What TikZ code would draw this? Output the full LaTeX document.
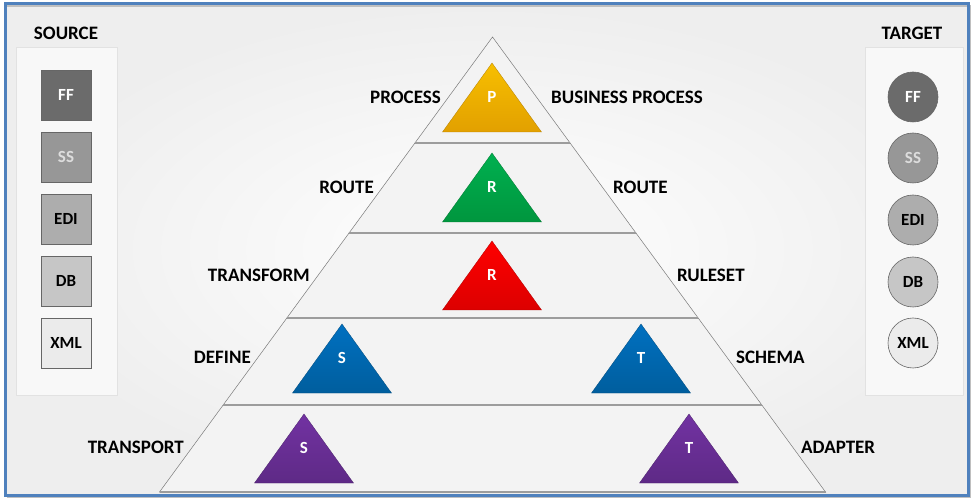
\documentclass[tikz,border=0pt]{standalone}
\usepackage{fontspec}
\setmainfont{Carlito}
\usetikzlibrary{calc}
\definecolor{framecol}{HTML}{4F81BD}
\definecolor{bgedge}{HTML}{EEEEEE}
\definecolor{bandfill}{HTML}{F3F3F3}
\definecolor{bandline}{HTML}{7A7A7A}
\definecolor{divline}{HTML}{9C9C9C}
\definecolor{panelline}{HTML}{E2E2E2}
\definecolor{goldT}{HTML}{F7BF00}\definecolor{goldB}{HTML}{E2A000}
\definecolor{greenT}{HTML}{00B050}\definecolor{greenB}{HTML}{00963E}
\definecolor{redT}{HTML}{FF0000}\definecolor{redB}{HTML}{DC0000}
\definecolor{blueT}{HTML}{0070C0}\definecolor{blueB}{HTML}{005E9E}
\definecolor{purpT}{HTML}{7232A2}\definecolor{purpB}{HTML}{5E2A86}
\definecolor{g1}{HTML}{6B6B6B}\definecolor{g2}{HTML}{979797}
\definecolor{g3}{HTML}{ADADAD}\definecolor{g4}{HTML}{C6C6C6}
\definecolor{g5}{HTML}{EBEBEB}\definecolor{sstext}{HTML}{DDDDDD}
\newcommand\pyrtri[5]{%
  \shade[top color=#3T, bottom color=#3B, draw=#3B!80!black, line width=0.3]
    (#1,#2) -- ++(-49.5,69) -- ++(99,0) -- cycle;
  \node[tritext] (#4) at (#1,#2+34) {#5};}
\begin{document}
\begin{tikzpicture}[x=1pt,y=-1pt,
  lbl/.style={font=\fontsize{19}{21}\selectfont\bfseries, text=black, inner sep=0pt},
  tritext/.style={font=\fontsize{17}{19}\selectfont\bfseries, text=white, inner sep=0pt},
  srcbox/.style={draw=black!60, line width=0.6, minimum size=50, inner sep=0pt,
    font=\fontsize{17}{19}\selectfont\bfseries},
  tgtc/.style={circle, draw=black!60, line width=0.6, minimum size=50, inner sep=0pt,
    font=\fontsize{17}{19}\selectfont\bfseries},
  band/.style={fill=bandfill, draw=bandline, line width=0.5},
  divider/.style={draw=divline, line width=1.6}]
\useasboundingbox (0,0) rectangle (977,502);
\fill[white] (0,0) rectangle (977,502);
\fill[inner color=white, outer color=bgedge] (5,4) rectangle (968,495);
\draw[black!25, line width=2] (7,6) -- (970,6) -- (970,497) -- (7,497);
\draw[framecol, line width=3] (5,4) rectangle (968,495);
% panels
\draw[panelline, fill=white!60!bgedge] (16,47) rectangle (117,395);
\draw[panelline, fill=white!60!bgedge] (865,47) rectangle (963,395);
\node[lbl] (src) at (66,33) {SOURCE};
\node[lbl] (tgt) at (912,33) {TARGET};
% source boxes
\node[srcbox, fill=g1, text=white] (sff) at (66,95) {FF};
\node[srcbox, fill=g2, text=sstext] (sss) at (66,157) {SS};
\node[srcbox, fill=g3] (sedi) at (66,219) {EDI};
\node[srcbox, fill=g4] (sdb) at (66,281) {DB};
\node[srcbox, fill=g5] (sxml) at (66,343) {XML};
% target circles
\node[tgtc, fill=g1, text=white] (tff) at (913,97) {FF};
\node[tgtc, fill=g2, text=sstext] (tss) at (913,158) {SS};
\node[tgtc, fill=g3] (tedi) at (913,220) {EDI};
\node[tgtc, fill=g4] (tdb) at (913,282) {DB};
\node[tgtc, fill=g5] (txml) at (913,343) {XML};
% pyramid
\coordinate (A) at (492.5,37);
\coordinate (BL) at (159.5,492);
\coordinate (BR) at (825.5,492);
\coordinate (L1) at ($(A)!0.233!(BL)$); \coordinate (R1) at ($(A)!0.233!(BR)$);
\coordinate (L2) at ($(A)!0.431!(BL)$); \coordinate (R2) at ($(A)!0.431!(BR)$);
\coordinate (L3) at ($(A)!0.618!(BL)$); \coordinate (R3) at ($(A)!0.618!(BR)$);
\coordinate (L4) at ($(A)!0.809!(BL)$); \coordinate (R4) at ($(A)!0.809!(BR)$);
\path[band] (A) -- (R1) -- (L1) -- cycle;
\path[band] (L1) -- (R1) -- (R2) -- (L2) -- cycle;
\path[band] (L2) -- (R2) -- (R3) -- (L3) -- cycle;
\path[band] (L3) -- (R3) -- (R4) -- (L4) -- cycle;
\path[band] (L4) -- (R4) -- (BR) -- (BL) -- cycle;
\draw[divider] (L1) -- (R1);
\draw[divider] (L2) -- (R2);
\draw[divider] (L3) -- (R3);
\draw[divider] (L4) -- (R4);
\draw[divider] (BL) -- (BR);
% inner triangles
\pyrtri{492}{63}{gold}{tp}{P}
\pyrtri{492}{153}{green}{trg}{R}
\pyrtri{492}{241}{red}{trr}{R}
\pyrtri{342}{324}{blue}{tsb}{S}
\pyrtri{641}{324}{blue}{ttb}{T}
\pyrtri{304}{414}{purp}{tsp}{S}
\pyrtri{689}{414}{purp}{ttp}{T}
% labels
\node[lbl, anchor=east] (lproc) at (441,97) {PROCESS};
\node[lbl, anchor=west] (lbp) at (551,97) {BUSINESS PROCESS};
\node[lbl, anchor=east] (lroute) at (374,187) {ROUTE};
\node[lbl, anchor=west] (rroute) at (613,187) {ROUTE};
\node[lbl, anchor=east] (ltrans) at (310,275) {TRANSFORM};
\node[lbl, anchor=west] (rrule) at (677,275) {RULESET};
\node[lbl, anchor=east] (ldef) at (251,357) {DEFINE};
\node[lbl, anchor=west] (rschema) at (736,357) {SCHEMA};
\node[lbl, anchor=east] (ltransp) at (184,447) {TRANSPORT};
\node[lbl, anchor=west] (radapt) at (801,447) {ADAPTER};
\end{tikzpicture}
\end{document}
